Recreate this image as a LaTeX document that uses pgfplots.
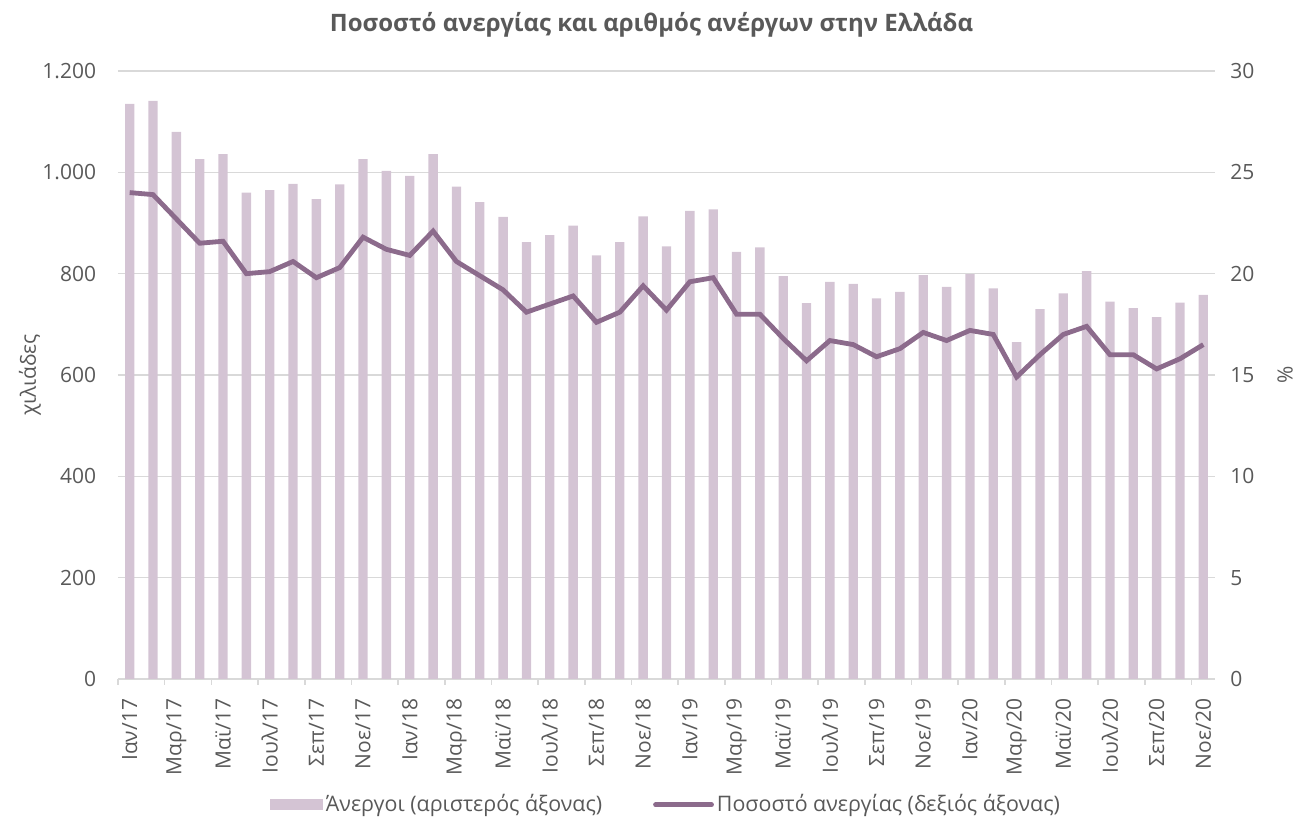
\documentclass[border=0pt]{standalone}
\usepackage{pgfplots}
\pgfplotsset{compat=1.18}
\usepackage{fontspec}
\setmainfont{Open Sans}
\definecolor{barc}{RGB}{212,196,212}
\definecolor{linec}{RGB}{140,107,140}
\definecolor{txt}{RGB}{89,89,89}
\definecolor{gridc}{RGB}{217,217,217}

\pgfplotstableread{
x anergoi pososto
0 1135 24.0
1 1141 23.9
2 1080 22.7
3 1026 21.5
4 1036 21.6
5 960 20.0
6 965 20.1
7 977 20.6
8 947 19.8
9 976 20.3
10 1026 21.8
11 1003 21.2
12 993 20.9
13 1036 22.1
14 972 20.6
15 941 19.9
16 912 19.2
17 862 18.1
18 876 18.5
19 895 18.9
20 836 17.6
21 862 18.1
22 913 19.4
23 854 18.2
24 924 19.6
25 927 19.8
26 843 18.0
27 852 18.0
28 795 16.8
29 742 15.7
30 784 16.7
31 780 16.5
32 751 15.9
33 764 16.3
34 797 17.1
35 774 16.7
36 799 17.2
37 771 17.0
38 665 14.9
39 730 16.0
40 761 17.0
41 805 17.4
42 745 16.0
43 732 16.0
44 714 15.3
45 743 15.8
46 758 16.5
}\datatable

\begin{document}
\fontsize{10.5}{12.5}\selectfont
\begin{tikzpicture}
\path[use as bounding box] (-59pt,-71.5pt) rectangle (589pt,339.5pt);
\pgfplotsset{
  every axis/.append style={
    at={(0,0)}, anchor=south west,
    scale only axis, width=548.5pt, height=304pt,
    xmin=-0.5, xmax=46.5,
    tick label style={text=txt, font=\fontsize{10.5}{12.5}\selectfont},
    /pgf/number format/assume math mode=true,
  }
}
\begin{axis}[
  ybar, bar width=0.4,
  ymin=0, ymax=1200, ytick={0,200,...,1200},
  /pgf/number format/1000 sep={.},
  axis x line*=bottom, axis y line*=left,
  y axis line style={draw=none},
  x axis line style={draw=gridc, line width=0.8pt},
  ytick style={draw=none},
  ymajorgrids, grid style={gridc, line width=0.8pt},
  xtick={0,2,...,46},
  xticklabels={Ιαν/17,Μαρ/17,Μαϊ/17,Ιουλ/17,Σεπ/17,Νοε/17,Ιαν/18,Μαρ/18,Μαϊ/18,Ιουλ/18,Σεπ/18,Νοε/18,Ιαν/19,Μαρ/19,Μαϊ/19,Ιουλ/19,Σεπ/19,Νοε/19,Ιαν/20,Μαρ/20,Μαϊ/20,Ιουλ/20,Σεπ/20,Νοε/20},
  major x tick style={draw=none},
  minor xtick={-0.5,1.5,...,45.5},
  minor x tick style={draw=gridc, line width=0.8pt},
  minor tick length=3pt, tick align=outside,
  x tick label style={rotate=90, anchor=east},
  xticklabel shift=2pt,
  yticklabel style={xshift=-3pt},
]
\addplot[fill=barc, draw=none] table[x=x, y=anergoi] {\datatable};
\end{axis}
\begin{axis}[
  ymin=0, ymax=30, ytick={0,5,...,30},
  axis y line*=right, axis x line=none,
  y axis line style={draw=none},
  ytick style={draw=none},
  yticklabel style={xshift=4pt, anchor=west},
  legend style={at={(0.5,-0.207)}, anchor=center, draw=none, fill=none,
    legend columns=2, /tikz/every even column/.append style={column sep=24pt},
    nodes={text=txt, inner sep=1.5pt, font=\fontsize{10.7}{12.5}\selectfont}},
]
\addlegendimage{legend image code/.code={\fill[barc] (0pt,-2.5pt) rectangle (26pt,2.5pt);}}
\addlegendentry{Άνεργοι (αριστερός άξονας)}
\addplot[linec, line width=2.4pt, mark=none, legend image code/.code={\draw[linec, line width=2.4pt, line cap=round] (0pt,0pt) -- (28pt,0pt);}] table[x=x, y=pososto] {\datatable};
\addlegendentry{Ποσοστό ανεργίας (δεξιός άξονας)}
\end{axis}
\node[rotate=90, text=txt] at (-44pt,152pt) {χιλιάδες};
\node[rotate=90, text=txt] at (583.5pt,152pt) {\%};
\node[font=\bfseries\fontsize{12}{14}\selectfont, text=txt] at (266.75pt,327pt) {Ποσοστό ανεργίας και αριθμός ανέργων στην Ελλάδα};
\end{tikzpicture}
\end{document}
